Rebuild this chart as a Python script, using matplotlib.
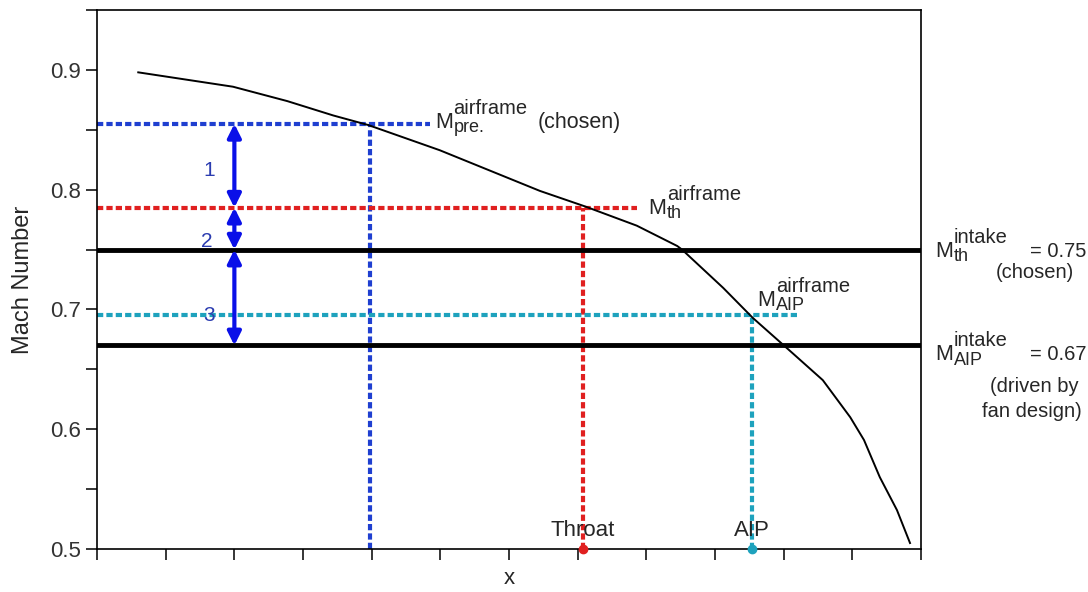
import numpy as np
import matplotlib as mpl
mpl.use('Agg')
import matplotlib.pyplot as plt

#------------------ font setup ----------------------
plt.rcParams['font.family'] = ['Liberation Sans', 'DejaVu Sans']

#------------------ data ----------------------
# airframe Mach number distribution along the duct
curve_x = [0.60, 1.98, 2.77, 3.44, 3.95, 4.99, 6.45, 7.11, 7.86, 8.45,
           8.52, 9.12, 9.55, 10.14, 10.57, 10.97, 11.17, 11.40, 11.65, 11.84]
curve_m = [0.898, 0.886, 0.874, 0.862, 0.854, 0.833, 0.799, 0.786, 0.770,
           0.753, 0.750, 0.718, 0.693, 0.663, 0.641, 0.610, 0.591, 0.560,
           0.5325, 0.505]

m_pre = 0.855      # pre-entry airframe Mach (chosen)
m_th_af = 0.785    # airframe Mach at throat
m_aip_af = 0.695   # airframe Mach at AIP
m_th_intake = 0.75
m_aip_intake = 0.67

x_pre = 3.98
x_throat = 7.08
x_aip = 9.54
x_arrow = 2.0

blue = '#1f3fd0'
red = '#e02020'
cyan = '#1ea2bd'
arrow_blue = '#0a10e8'
num_blue = '#2b3cb0'
txt = '#262626'

#------------------ figure ----------------------
fig = plt.figure(figsize=(10.88, 5.92), dpi=100)
ax = fig.add_axes([0.0892, 0.0726, 0.7573, 0.9104])


def mach_label(x, y, sup, sub, trans=None, size=15.5):
    """M with a full-size superscript and a subscript, baseline at (x, y)."""
    trans = ax.transData if trans is None else trans
    kw = dict(xycoords=trans, textcoords='offset points', ha='left',
              va='baseline', color=txt, annotation_clip=False)
    ax.annotate('M', (x, y), xytext=(0, 0), fontsize=size, **kw)
    ax.annotate(sup, (x, y), xytext=(13.5, 10), fontsize=14.5, **kw)
    ax.annotate(sub, (x, y), xytext=(13.5, -3), fontsize=13, **kw)


dots = (0, (1.5, 0.75))
ax.plot([0, 4.85], [m_pre, m_pre], color=blue, lw=3, ls=dots)
ax.plot([x_pre, x_pre], [0.5, m_pre], color=blue, lw=3, ls=dots)
ax.plot([0, 7.86], [m_th_af, m_th_af], color=red, lw=3, ls=dots)
ax.plot([x_throat, x_throat], [0.5, m_th_af], color=red, lw=3, ls=dots)
ax.plot([0, 10.2], [m_aip_af, m_aip_af], color=cyan, lw=3, ls=dots)
ax.plot([x_aip, x_aip], [0.5, m_aip_af], color=cyan, lw=3, ls=dots)

ax.axhline(m_th_intake, color='black', lw=3.5)
ax.axhline(m_aip_intake, color='black', lw=3.5)

ax.plot(curve_x, curve_m, color='black', lw=1.4, solid_joinstyle='round')

# margins between the levels
for lo, hi in [(m_th_af, m_pre), (m_th_intake, m_th_af), (m_aip_intake, m_th_intake)]:
    ax.annotate('', xy=(x_arrow, hi), xytext=(x_arrow, lo),
                arrowprops=dict(arrowstyle='<|-|>', color=arrow_blue, lw=3,
                                mutation_scale=20, shrinkA=0, shrinkB=0))
ax.text(1.64, 0.816, '1', color=num_blue, fontsize=15, ha='center', va='center')
ax.text(1.60, 0.757, '2', color=num_blue, fontsize=15, ha='center', va='center')
ax.text(1.63, 0.695, '3', color=num_blue, fontsize=15, ha='center', va='center')

# station markers
ax.plot([x_throat], [0.5], 'o', color=red, ms=6, clip_on=False, zorder=5)
ax.plot([x_aip], [0.5], 'o', color=cyan, ms=6, clip_on=False, zorder=5)
ax.text(x_throat, 0.507, 'Throat', fontsize=16, ha='center', va='bottom', color=txt)
ax.text(x_aip, 0.507, 'AIP', fontsize=16, ha='center', va='bottom', color=txt)

# airframe labels
mach_label(4.92, 0.8517, 'airframe', 'pre.')
ax.text(6.42, 0.8517, '(chosen)', fontsize=15.5, ha='left', va='baseline', color=txt)
mach_label(8.03, 0.780, 'airframe', 'th')
mach_label(9.61, 0.7033, 'airframe', 'AIP')

# intake levels, outside the axes
yt = ax.get_yaxis_transform()
mach_label(1.017, 0.744, 'intake', 'th', trans=yt)
ax.text(1.132, 0.744, '= 0.75', fontsize=14.5, transform=yt,
        ha='left', va='baseline', clip_on=False, color=txt)
ax.text(1.138, 0.731, '(chosen)', fontsize=14.5, transform=yt,
        ha='center', va='center', clip_on=False, color=txt)
mach_label(1.017, 0.6575, 'intake', 'AIP', trans=yt)
ax.text(1.132, 0.6575, '= 0.67', fontsize=14.5, transform=yt,
        ha='left', va='baseline', clip_on=False, color=txt)
ax.text(1.138, 0.631, '(driven by', fontsize=14.5, transform=yt,
        ha='center', va='baseline', clip_on=False, color=txt)
ax.text(1.134, 0.610, 'fan design)', fontsize=14.5, transform=yt,
        ha='center', va='baseline', clip_on=False, color=txt)

#------------------ axes ----------------------
ax.set_xlim(0, 12)
ax.set_ylim(0.5, 0.95)
ax.set_xticks(np.arange(0, 13, 1))
ax.set_xticklabels([])
ax.set_yticks([0.5, 0.6, 0.7, 0.8, 0.9])
ax.set_yticks(np.arange(0.55, 0.96, 0.1), minor=True)
ax.tick_params(axis='both', which='both', direction='out', length=8, width=1.1,
               labelsize=16, labelcolor='#333333')
for s in ax.spines.values():
    s.set_linewidth(1.2)
ax.set_xlabel('x', fontsize=16, labelpad=2, color=txt)
ax.set_ylabel('Mach Number', fontsize=17, labelpad=12, color=txt)

plt.savefig('out.png', dpi=100)
